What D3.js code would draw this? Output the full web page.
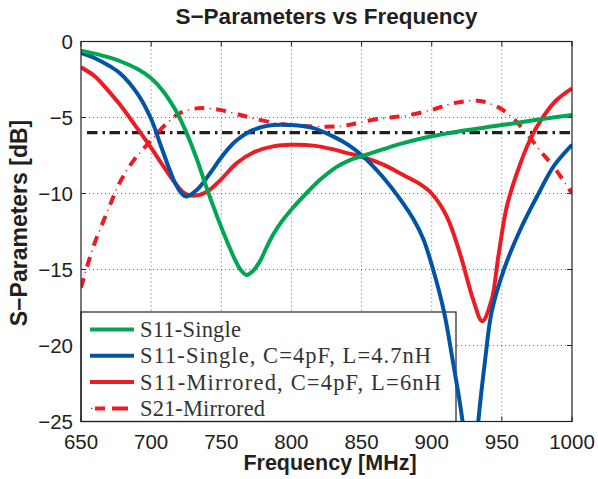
<!DOCTYPE html>
<html>
<head>
<meta charset="utf-8">
<script src="https://cdn.jsdelivr.net/npm/d3@7"></script>
<style>
  body { margin: 0; background: #fff; }
  text { fill: #231f20; }
</style>
</head>
<body>
<svg id="chart" width="598" height="479"></svg>
<script>
// S-parameter curves: [frequency MHz, dB]
const s11Single = [
    [650, -0.6], [660, -0.8], [670, -1.05], [678, -1.3], [690, -1.8], [700, -2.42],
    [708, -3.2], [716, -4.3], [724, -5.75], [732, -7.6], [740, -9.75], [748, -11.75],
    [755, -13.35], [760, -14.4], [764, -15.05], [768, -15.36], [772, -15.15], [777.6, -14.45],
    [782, -13.6], [787, -12.7], [793, -11.85], [800, -11.05], [811, -9.95], [820.4, -9.1],
    [832.3, -8.25], [841.7, -7.8], [850, -7.55], [865, -7.1], [877, -6.75], [899, -6.25],
    [920, -5.9], [950, -5.5], [975, -5.15], [1000, -4.84]
];

const s11SingleLC = [
    [650, -0.75], [660, -1.1], [670, -1.6], [678, -2.1], [690, -3.4], [700, -5.1],
    [706.3, -6.7], [712.2, -8.2], [717, -9.3], [721.8, -10.0], [725, -10.2], [732.5, -9.77],
    [742, -8.67], [749, -7.75], [756, -6.95], [761, -6.5], [772.8, -5.82], [787, -5.5],
    [800, -5.5], [815.6, -5.7], [830, -6.26], [840.5, -6.8], [850, -7.47], [865, -8.9],
    [880, -10.7], [887, -11.7], [894, -13.0], [901, -15.0], [908.8, -17.8], [915, -21],
    [922, -25], [928, -31], [933.2, -25], [938, -21], [942.7, -17.8], [951.5, -15],
    [963, -12.4], [975, -10.2], [987, -8.2], [1000, -6.8]
];

const s11Mirrored = [
    [650, -1.7], [660, -2.3], [670, -3.3], [678, -4.18], [690, -5.7], [700, -7.0],
    [708.7, -8.2], [717, -9.3], [724, -10], [730, -10.14], [739.6, -9.9], [749, -9.15],
    [761, -8.0], [772.8, -7.3], [787, -6.9], [800, -6.8], [815.6, -6.85], [830, -7.1],
    [840.5, -7.36], [850, -7.58], [865.5, -8.1], [880, -8.8], [892, -9.4], [900, -10],
    [910.7, -11.5], [920, -13.9], [929.6, -17], [936, -18.4], [942.7, -17], [947.4, -14.2],
    [953.4, -10.9], [960.6, -8.7], [970, -6.48], [979.5, -4.95], [989, -3.85], [1000, -3.08]
];

const s21Mirrored = [
    [650, -16.2], [658.8, -13.5], [668.3, -11.3], [677.8, -9.25], [687.3, -7.85], [700, -6.5],
    [711, -5.4], [720.6, -4.7], [732.5, -4.4], [740, -4.4], [749, -4.5], [760, -4.75],
    [772.8, -5.05], [792, -5.43], [808.5, -5.56], [830, -5.6], [840.5, -5.5], [850, -5.3],
    [865.5, -5.05], [880, -4.9], [900, -4.5], [915, -4.07], [933, -3.9], [947, -4.3],
    [958, -5.05], [967.7, -6.05], [977, -7.15], [987, -8.25], [1000, -10]
];

const thresholdDb = -6;

const xTicks = [650, 700, 750, 800, 850, 900, 950, 1000];
const yTicks = [0, -5, -10, -15, -20, -25];

const legendLabels = [
    "S11-Single",
    "S11-Single, C=4pF, L=4.7nH",
    "S11-Mirrored, C=4pF, L=6nH",
    "S21-Mirrored"
];

const green = "#00a651", blue = "#0054a6", red = "#ed1c24", black = "#231f20";

const svg = d3.select("#chart"),
    margin = { top: 41.5, right: 26, bottom: 57.5, left: 81 },
    width = 598 - margin.left - margin.right,
    height = 479 - margin.top - margin.bottom;

const x = d3.scaleLinear().domain([650, 1000]).range([0, width]);
const y = d3.scaleLinear().domain([-25, 0]).range([height, 0]);

svg.append("defs").append("clipPath")
    .attr("id", "plot-clip")
    .append("rect")
    .attr("width", width)
    .attr("height", height);

const g = svg.append("g")
    .attr("transform", "translate(" + margin.left + "," + margin.top + ")");

// dotted grid
g.append("g")
    .selectAll("line")
    .data(xTicks.slice(1, -1))
    .enter().append("line")
    .attr("x1", d => x(d)).attr("x2", d => x(d))
    .attr("y1", 0).attr("y2", height)
    .attr("stroke", "#444")
    .attr("stroke-width", 0.8)
    .attr("stroke-dasharray", "1,3");

g.append("g")
    .selectAll("line")
    .data(yTicks.slice(1, -1))
    .enter().append("line")
    .attr("x1", 0).attr("x2", width)
    .attr("y1", d => y(d)).attr("y2", d => y(d))
    .attr("stroke", "#444")
    .attr("stroke-width", 0.8)
    .attr("stroke-dasharray", "1,3");

// inward ticks on all four sides
const tickLen = 5;
const tickG = g.append("g").attr("stroke", black).attr("stroke-width", 1);
xTicks.forEach(t => {
    tickG.append("line").attr("x1", x(t)).attr("x2", x(t)).attr("y1", height).attr("y2", height - tickLen);
    tickG.append("line").attr("x1", x(t)).attr("x2", x(t)).attr("y1", 0).attr("y2", tickLen);
});
yTicks.forEach(t => {
    tickG.append("line").attr("x1", 0).attr("x2", tickLen).attr("y1", y(t)).attr("y2", y(t));
    tickG.append("line").attr("x1", width).attr("x2", width - tickLen).attr("y1", y(t)).attr("y2", y(t));
});

// tick labels
const fmt = d3.format("d");
g.append("g")
    .selectAll("text")
    .data(xTicks)
    .enter().append("text")
    .attr("x", d => x(d))
    .attr("y", height + 27)
    .attr("text-anchor", "middle")
    .style("font", "20.5px 'Liberation Sans', Arial, sans-serif")
    .text(d => fmt(d));

g.append("g")
    .selectAll("text")
    .data(yTicks)
    .enter().append("text")
    .attr("x", -8)
    .attr("y", d => y(d) + 7.5)
    .attr("text-anchor", "end")
    .style("font", "20.5px 'Liberation Sans', Arial, sans-serif")
    .text(d => fmt(d));

// legend box (lines are drawn over it)
const legX = 0, legY = 270.5, legW = 375, legH = height - 270.5;
g.append("rect")
    .attr("x", legX).attr("y", legY)
    .attr("width", legW).attr("height", legH)
    .attr("fill", "#fff")
    .attr("stroke", black)
    .attr("stroke-width", 1.2);

const line = d3.line()
    .x(d => x(d[0]))
    .y(d => y(d[1]))
    .curve(d3.curveCatmullRom.alpha(0.5));

const plot = g.append("g").attr("clip-path", "url(#plot-clip)");

// -6 dB reference
plot.append("line")
    .attr("x1", x(650) + 6).attr("x2", x(1000))
    .attr("y1", y(thresholdDb)).attr("y2", y(thresholdDb))
    .attr("stroke", black)
    .attr("stroke-width", 3.2)
    .attr("stroke-dasharray", "10.5,5,2.5,4.5");

// S21 dash-dot: thick dashes plus thin dots
plot.append("path")
    .datum(s21Mirrored)
    .attr("d", line)
    .attr("fill", "none")
    .attr("stroke", red)
    .attr("stroke-width", 4)
    .attr("stroke-dasharray", "10,12");
plot.append("path")
    .datum(s21Mirrored)
    .attr("d", line)
    .attr("fill", "none")
    .attr("stroke", red)
    .attr("stroke-width", 1.3)
    .attr("stroke-dasharray", "1.5,20.5")
    .attr("stroke-dashoffset", -15.2);

[[s11Mirrored, red], [s11SingleLC, blue], [s11Single, green]].forEach(([data, color]) => {
    plot.append("path")
        .datum(data)
        .attr("d", line)
        .attr("fill", "none")
        .attr("stroke", color)
        .attr("stroke-width", 4)
        .attr("stroke-linejoin", "round");
});

// axes box
g.append("rect")
    .attr("width", width).attr("height", height)
    .attr("fill", "none")
    .attr("stroke", black)
    .attr("stroke-width", 1.2);

// legend entries; text widths stretched to the wider serif of the original
const legendTextWidths = [101, 291, 301, 125];
const legend = g.append("g");
const rowY = i => legY + 17.5 + i * 26.3;
legendLabels.forEach((label, i) => {
    const yy = rowY(i);
    if (i < 3) {
        legend.append("line")
            .attr("x1", 9).attr("x2", 53)
            .attr("y1", yy).attr("y2", yy)
            .attr("stroke", [green, blue, red][i])
            .attr("stroke-width", 4);
    } else {
        legend.append("line")
            .attr("x1", 9).attr("x2", 53).attr("y1", yy).attr("y2", yy)
            .attr("stroke", red).attr("stroke-width", 4)
            .attr("stroke-dasharray", "0,5,10,7,16,20");
        legend.append("line")
            .attr("x1", 9).attr("x2", 53).attr("y1", yy).attr("y2", yy)
            .attr("stroke", red).attr("stroke-width", 1.3)
            .attr("stroke-dasharray", "0,1,1.5,19.5,1.5,20");
    }
    legend.append("text")
        .attr("x", 59)
        .attr("y", yy + 7.5)
        .attr("textLength", legendTextWidths[i])
        .attr("lengthAdjust", "spacing")
        .style("font", "22.5px 'Liberation Serif', 'Times New Roman', serif")
        .style("fill", "#333")
        .text(label);
});

// title and axis labels
svg.append("text")
    .attr("x", margin.left + width / 2)
    .attr("y", 24)
    .attr("text-anchor", "middle")
    .style("font", "bold 22.5px 'Liberation Sans', Arial, sans-serif")
    .text("S\u2212Parameters vs Frequency");

svg.append("text")
    .attr("x", 330)
    .attr("y", 470)
    .attr("text-anchor", "middle")
    .style("font", "bold 21.5px 'Liberation Sans', Arial, sans-serif")
    .text("Frequency [MHz]");

svg.append("text")
    .attr("transform", "translate(27,223) rotate(-90)")
    .attr("text-anchor", "middle")
    .style("font", "bold 23px 'Liberation Sans', Arial, sans-serif")
    .text("S\u2212Parameters [dB]");
</script>
</body>
</html>
